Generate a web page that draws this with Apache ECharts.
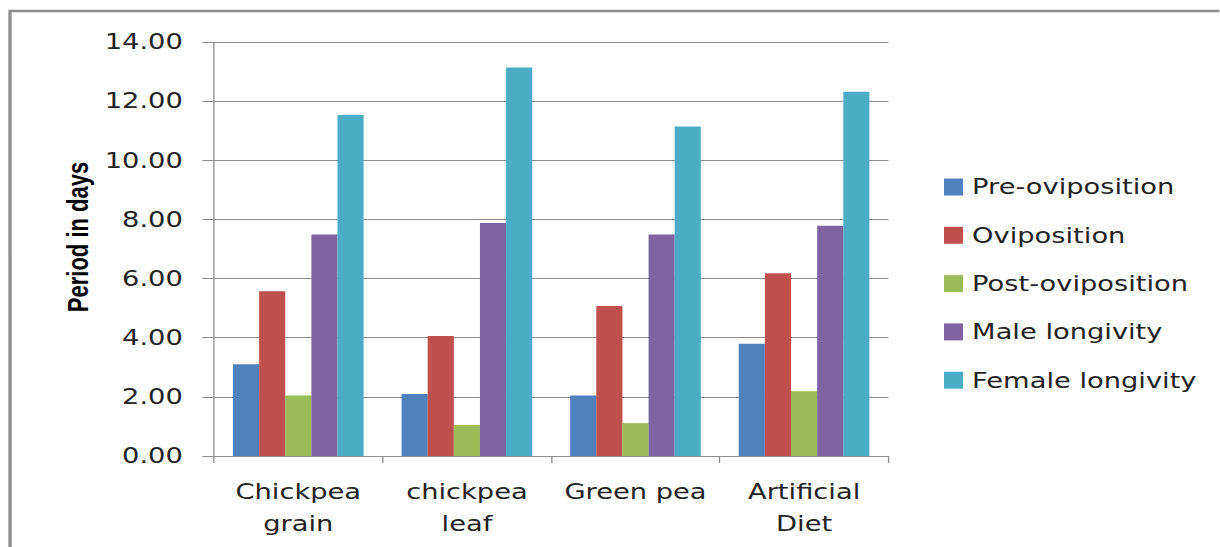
<!DOCTYPE html>
<html>
<head>
<meta charset="utf-8">
<script src="https://cdn.jsdelivr.net/npm/echarts@6/dist/echarts.min.js"></script>
<style>
  html, body { margin: 0; padding: 0; background: #fff; overflow: hidden; }
  #chart { height: 547px; transform-origin: 0 0; }
</style>
</head>
<body>
<div id="chart"></div>
<script>
// Host plant / diet groups on the x axis
const categories = ['Chickpea\ngrain', 'chickpea\nleaf', 'Green pea', 'Artificial\nDiet'];

// Period in days for each stage
const preOviposition   = [3.10, 2.10, 2.05, 3.80];
const oviposition      = [5.57, 4.06, 5.07, 6.18];
const postOviposition  = [2.05, 1.05, 1.11, 2.19];
const maleLongevity    = [7.49, 7.88, 7.49, 7.79];
const femaleLongevity  = [11.53, 13.14, 11.14, 12.32];

const seriesNames = ['Pre-oviposition', 'Oviposition', 'Post-oviposition', 'Male longivity', 'Female longivity'];
const seriesValues = [preOviposition, oviposition, postOviposition, maleLongevity, femaleLongevity];
const seriesColors = ['#4F81BD', '#C0504D', '#9BBB59', '#8064A2', '#4BACC6'];

// Value axis range and step
const yMin = 0, yMax = 14, yStep = 2;

// The chart uses wide lettering: it is laid out at a narrower width
// and widened horizontally with a CSS scale.
const S = 1.3;
const FULL_W = 1220;
const el = document.getElementById('chart');
el.style.width = (FULL_W / S) + 'px';
el.style.transform = 'scaleX(' + S + ')';

const GRID_COLOR = '#8c8c8c';
const TEXT_COLOR = '#222';
const FONT = '"DejaVu Sans", Verdana, sans-serif';

const chart = echarts.init(el, null, { renderer: 'svg' });

chart.setOption({
  animation: false,
  backgroundColor: '#fff',
  grid: {
    left: 214 / S,
    right: (FULL_W - 889) / S,
    top: 42,
    bottom: 547 - 456
  },
  legend: {
    orient: 'vertical',
    left: 944 / S,
    top: 175,
    padding: 0,
    icon: 'rect',
    itemWidth: 19 / S,
    itemHeight: 17,
    itemGap: 24.3,
    selectedMode: false,
    textStyle: {
      fontFamily: FONT,
      fontSize: 21,
      lineHeight: 24,
      color: TEXT_COLOR,
      padding: [0, 0, 0, 2]
    },
    data: seriesNames
  },
  xAxis: {
    type: 'category',
    data: categories,
    axisLine: { show: true, lineStyle: { color: GRID_COLOR, width: 1 } },
    axisTick: { show: true, length: 7, alignWithLabel: false, lineStyle: { color: GRID_COLOR } },
    axisLabel: {
      interval: 0,
      margin: 20,
      fontFamily: FONT,
      fontSize: 21,
      lineHeight: 32,
      color: TEXT_COLOR
    },
    splitLine: { show: false }
  },
  yAxis: {
    type: 'value',
    min: yMin,
    max: yMax,
    interval: yStep,
    axisLine: { show: true, lineStyle: { color: GRID_COLOR, width: 1 } },
    axisTick: { show: true, length: 9, lineStyle: { color: GRID_COLOR } },
    axisLabel: {
      margin: 24,
      fontFamily: FONT,
      fontSize: 21,
      color: TEXT_COLOR,
      formatter: v => v.toFixed(2)
    },
    splitLine: { show: true, lineStyle: { color: GRID_COLOR, width: 1 } }
  },
  graphic: [
    {
      type: 'rect',
      silent: true,
      z: -10,
      shape: { x: 10 / S, y: 11, width: (FULL_W + 40) / S, height: 600 },
      style: { fill: 'none', stroke: '#8c8c8c', lineWidth: 2.5 }
    },
    {
      type: 'text',
      silent: true,
      x: 78 / S,
      y: 237,
      rotation: Math.PI / 2,
      style: {
        text: 'Period in days',
        fontFamily: '"Liberation Sans Narrow", "Liberation Sans", sans-serif',
        fontWeight: 'bold',
        fontSize: 22,
        fill: '#000',
        align: 'center',
        verticalAlign: 'middle'
      }
    }
  ],
  series: seriesNames.map((name, i) => ({
    name: name,
    type: 'bar',
    data: seriesValues[i],
    barGap: '0%',
    barCategoryGap: '22.5%',
    itemStyle: { color: seriesColors[i] }
  }))
});
</script>
</body>
</html>
